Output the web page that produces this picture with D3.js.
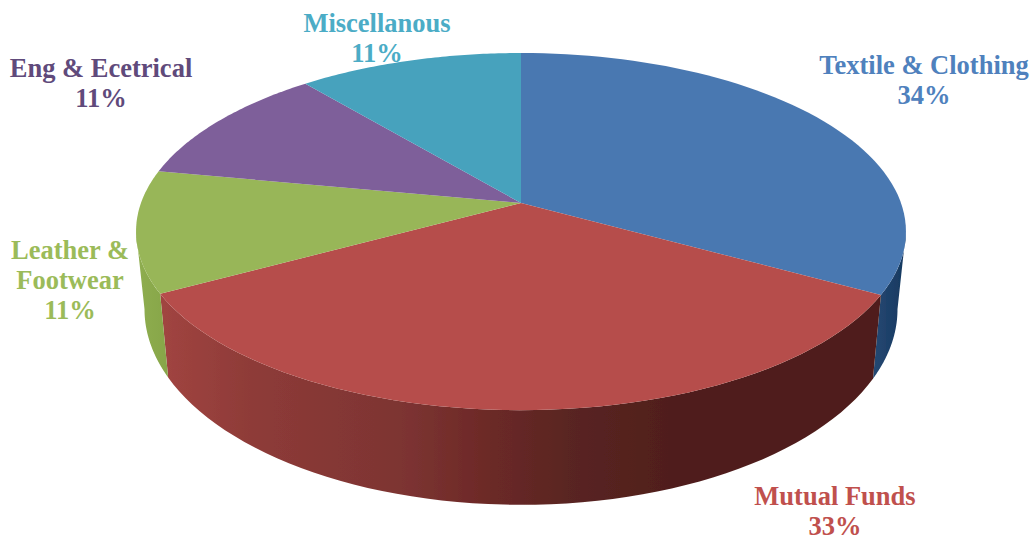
<!DOCTYPE html>
<html><head><meta charset="utf-8">
<script src="https://cdn.jsdelivr.net/npm/d3@7/dist/d3.min.js"></script>
<style>html,body{margin:0;background:#fff}svg{display:block}text{font-family:"Liberation Serif",serif;font-weight:bold;font-size:26.5px;text-anchor:middle}</style>
</head><body><script>
const categories=["Textile & Clothing","Mutual Funds","Leather & Footwear","Eng & Ecetrical","Miscellanous"];
const sliceValues=[33.1,33.9,11,11,11];
const shownPercents=["34%","33%","11%","11%","11%"];
const topColors=["#4a78b1","#b64e4b","#98b658","#7e5e9a","#46a2bd"];
const labelColors=["#4f81bd","#c0504d","#9bbb59","#604a7b","#4bacc6"];
const labelLines=[["Textile & Clothing"],["Mutual Funds"],["Leather &","Footwear"],["Eng & Ecetrical"],["Miscellanous"]];
const labelPos=[[924,74],[835,505],[70,259],[101,77],[377,32]];
const W=1035,H=541,cx=521,cy=203,A=380,B=174,k=0.16;
const svg=d3.select("body").append("svg").attr("width",W).attr("height",H);
const defs=svg.append("defs");
defs.append("filter").attr("id","soft").append("feGaussianBlur").attr("stdDeviation",0.7);
const proj=t=>{const u=Math.sin(t),v=Math.cos(t),w=1+k*v;return [cx+A*u/w,cy-B*v/w];};
const low=t=>{const [x,y]=proj(t);return [cx+.978*(x-cx),278+1.095*(y-cy)];};
const pie=d3.pie().sort(null).value(d=>d)(sliceValues);
const line=d3.line();
const samp=(a,b)=>d3.range(0,61).map(i=>a+(b-a)*i/60);
const rad=Math.PI/180;
const sideStops={
 0:[[0,"#274a75"],[1,"#16385f"]],
 1:[[0,"#a04440"],[.12,"#8e3b38"],[.33,"#7d3432"],[.44,"#6e2a28"],[.56,"#5a2522"],[.72,"#4f1e1c"],[1,"#4f1e1a"]],
 2:[[0,"#8fae50"],[1,"#86a548"]]
};
Object.entries(sideStops).forEach(([i,st])=>{
 const g=defs.append("linearGradient").attr("id","side"+i).attr("gradientUnits","userSpaceOnUse")
  .attr("x1",+i===1?165:(+i===0?870:136)).attr("x2",+i===1?880:(+i===0?906:170)).attr("y1",0).attr("y2",0);
 st.forEach(s=>g.append("stop").attr("offset",s[0]).attr("stop-color",s[1]));
});
const pieG=svg.append("g").attr("filter","url(#soft)");
const sideG=pieG.append("g");
[0,1,2].forEach(i=>{
 const p=pie[i];
 const a=i===0?99.2*rad:p.startAngle;
 const b=i===2?260.8*rad:p.endAngle;
 const ang=samp(a,b);
 const pts=ang.map(proj).concat(ang.slice().reverse().map(low));
 sideG.append("path").attr("d",line(pts)+"Z").attr("fill",`url(#side${i})`);
});
pieG.append("g").selectAll("path").data(pie).join("path")
 .attr("d",d=>line([[cx,cy],...samp(d.startAngle,d.endAngle).map(proj)])+"Z")
 .attr("fill",(d,i)=>topColors[i]);
categories.forEach((c,i)=>{
 const t=svg.append("text").attr("fill",labelColors[i]);
 const [x,y]=labelPos[i];
 labelLines[i].concat(shownPercents[i]).forEach((s,j)=>t.append("tspan").attr("x",x).attr("y",y+j*30).text(s));
});
</script></body></html>
